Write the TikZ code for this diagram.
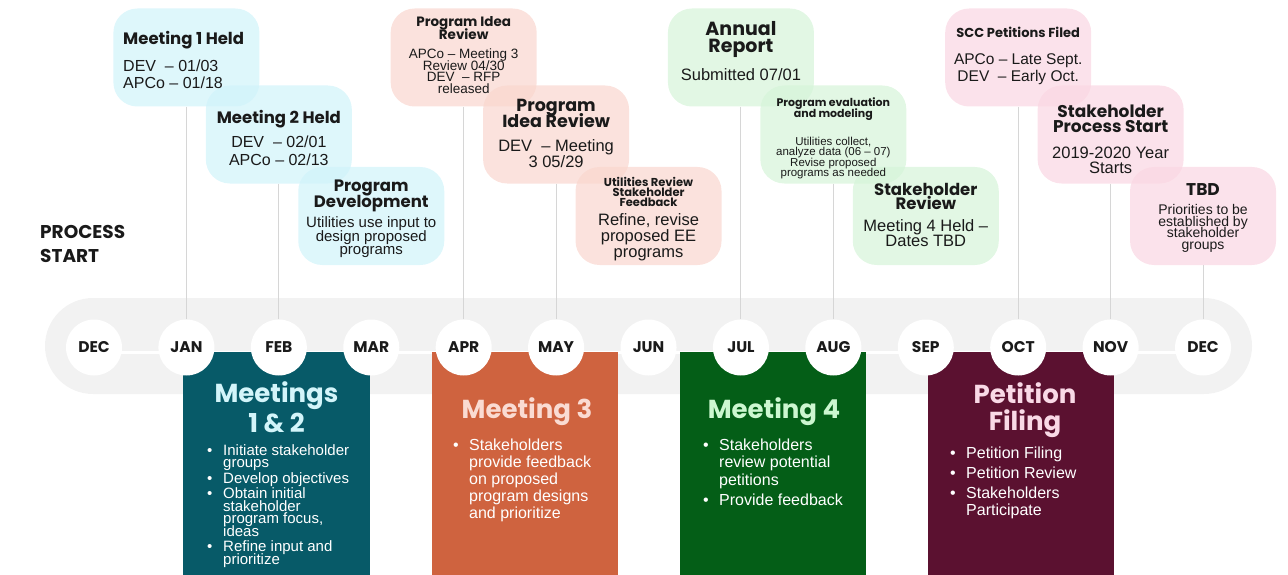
\documentclass[tikz,border=0pt]{standalone}
\usepackage{fontspec}
\setmainfont{Liberation Sans}
\newfontfamily\gothic{Poppins}
\usetikzlibrary{calc}

\definecolor{cyanbox}{HTML}{D0F3FA}
\definecolor{salmonbox}{HTML}{F9D6CE}
\definecolor{greenbox}{HTML}{D5F4D8}
\definecolor{pinkbox}{HTML}{FAD6E2}
\definecolor{bandgray}{HTML}{F2F2F2}
\definecolor{stemgray}{HTML}{D6D6D6}
\definecolor{tealfill}{HTML}{075A68}
\definecolor{orangefill}{HTML}{CF633F}
\definecolor{greenfill}{HTML}{045E17}
\definecolor{maroonfill}{HTML}{5B1130}
\definecolor{tealtitle}{HTML}{D3F5FA}
\definecolor{orangetitle}{HTML}{FADBD2}
\definecolor{greentitle}{HTML}{CCF7D0}
\definecolor{maroontitle}{HTML}{F9D9E6}
\definecolor{ink}{HTML}{1A1A1A}

% title / body blocks inside the callouts
\newcommand\ttl[3]{{\gothic\bfseries\fontsize{#1}{#2}\selectfont #3\par}}
\newcommand\bdy[3]{{\fontsize{#1}{#2}\selectfont #3\par}}
\newcommand\cpar[2]{\parbox[t]{#1}{\lineskiplimit=-50pt\lineskip=0pt\centering #2}}
\newcommand\lpar[2]{\parbox[t]{#1}{\lineskiplimit=-50pt\lineskip=0pt\raggedright #2}}
% bullet lists in the phase panels
\newlength\bw \setlength\bw{16pt}
\newcommand\bit[1]{\par\hangindent=\bw\hangafter=1\noindent\makebox[\bw][l]{\textbullet}#1}
\newcommand\blist[5]{\parbox[t]{#1}{\lineskiplimit=-50pt\lineskip=0pt\raggedright\fontsize{#2}{#3}\selectfont\parskip=#4pt #5}}

\tikzset{
  callout/.style={rounded corners=24pt, minimum width=146pt, minimum height=98pt,
    inner sep=0pt, fill opacity=0.7, draw=none},
  ctext/.style={anchor=base, inner sep=0pt, text=ink},
  month/.style={circle, fill=white, minimum size=56pt, inner sep=0pt, text=ink,
    font=\gothic\bfseries\fontsize{15.5}{16}\selectfont},
  stem/.style={draw=stemgray, line width=1pt},
  phase/.style={anchor=north west, inner sep=0pt, minimum height=223pt, draw=none},
  plist/.style={anchor=base west, inner sep=0pt, text=white},
}

\begin{document}
\begin{tikzpicture}[x=1pt,y=-1pt]
\useasboundingbox (0,0) rectangle (1288,575);

% month positions along the timeline
\foreach \i in {0,...,12} \coordinate (p\i) at ({94+92.42*\i},347.5);

% milestone callouts
\node[callout, fill=cyanbox]   (c1)  at (p1 |- 0,57.5) {};
\node[callout, fill=cyanbox]   (c2)  at (p2 |- 0,134.5) {};
\node[callout, fill=cyanbox]   (c3)  at (p3 |- 0,216) {};
\node[callout, fill=salmonbox] (c4)  at (p4 |- 0,57.5) {};
\node[callout, fill=salmonbox] (c5)  at (p5 |- 0,134.5) {};
\node[callout, fill=salmonbox] (c6)  at (p6 |- 0,216) {};
\node[callout, fill=greenbox]  (c7)  at (p7 |- 0,57.5) {};
\node[callout, fill=greenbox]  (c8)  at (p8 |- 0,134.5) {};
\node[callout, fill=greenbox]  (c9)  at (p9 |- 0,216) {};
\node[callout, fill=pinkbox]   (c10) at (p10 |- 0,57.5) {};
\node[callout, fill=pinkbox]   (c11) at (p11 |- 0,134.5) {};
\node[callout, fill=pinkbox]   (c12) at (p12 |- 0,216) {};

\node[ctext, anchor=base west] (t1) at (123,45) {\lpar{140pt}{%
  \ttl{16.5}{16}{Meeting 1 Held}\vspace{10.5pt}%
  \bdy{16}{16.5}{DEV\ \ – 01/03\\APCo – 01/18}}};
\node[ctext] (t2) at (p2 |- 0,124) {\cpar{144pt}{%
  \ttl{16.5}{16}{Meeting 2 Held}\vspace{6pt}%
  \bdy{16}{18}{DEV\ \ – 02/01\\APCo – 02/13}}};
\node[ctext] (t3) at (p3 |- 0,191.5) {\cpar{144pt}{%
  \ttl{16.5}{15.5}{Program\\Development}\vspace{7pt}%
  \bdy{15}{13.5}{Utilities use input to\\design proposed\\programs}}};
\node[ctext] (t4) at (p4 |- 0,27) {\cpar{144pt}{%
  \ttl{13.5}{13}{Program Idea\\Review}\vspace{7.5pt}%
  \bdy{13.5}{11.5}{APCo – Meeting 3\\Review 04/30\\DEV\ \ – RFP\\released}}};
\node[ctext] (t5) at (p5 |- 0,112) {\cpar{144pt}{%
  \ttl{17.5}{16}{Program\\Idea Review}\vspace{8.5pt}%
  \bdy{16.5}{15.5}{DEV\ \ – Meeting\\3 05/29}}};
\node[ctext] (t6) at (p6 |- 0,186) {\cpar{144pt}{%
  \ttl{11.5}{10}{Utilities Review\\Stakeholder\\Feedback}\vspace{3.5pt}%
  \bdy{16.5}{16}{Refine, revise\\proposed EE\\programs}}};
\node[ctext] (t7) at (p7 |- 0,36) {\cpar{144pt}{%
  \ttl{19}{16.5}{Annual\\Report}\vspace{11.5pt}%
  \bdy{16.5}{16.5}{Submitted 07/01}}};
\node[ctext] (t8) at (p8 |- 0,107) {\cpar{144pt}{%
  \ttl{11}{10.5}{Program evaluation\\and modeling}\vspace{18pt}%
  \bdy{11.5}{10.2}{Utilities collect,\\analyze data (06 – 07)\\Revise proposed\\programs as needed}}};
\node[ctext] (t9) at (p9 |- 0,195) {\cpar{144pt}{%
  \ttl{16.5}{14.5}{Stakeholder\\Review}\vspace{7pt}%
  \bdy{16.5}{15}{Meeting 4 Held –\\Dates TBD}}};
\node[ctext] (t10) at (p10 |- 0,38) {\cpar{144pt}{%
  \ttl{13}{13}{SCC Petitions Filed}\vspace{10pt}%
  \bdy{15.5}{17}{APCo – Late Sept.\\DEV\ \ – Early Oct.}}};
\node[ctext] (t11) at (p11 |- 0,118) {\cpar{144pt}{%
  \ttl{17}{15}{Stakeholder\\Process Start}\vspace{10pt}%
  \bdy{16.5}{15}{2019-2020 Year\\Starts}}};
\node[ctext] (t12) at (p12 |- 0,195) {\cpar{144pt}{%
  \ttl{17}{15}{TBD}\vspace{8.5pt}%
  \bdy{14}{11.5}{Priorities to be\\established by\\stakeholder\\groups}}};

% heading at the left
\node[ctext, anchor=base west] (ps) at (40,238) {\lpar{120pt}{%
  \gothic\bfseries\fontsize{18.5}{24}\selectfont PROCESS\\START}};

% timeline band
\fill[bandgray, rounded corners=48pt] (45,298) rectangle (1252,394);
\draw[white, line width=3pt] ($(p0)+(0,4.5)$) -- ($(p12)+(0,4.5)$);

% phase panels
\node[phase, fill=tealfill,   minimum width=187pt] (b1) at (183,352) {};
\node[phase, fill=orangefill, minimum width=186pt] (b2) at (432,352) {};
\node[phase, fill=greenfill,  minimum width=186pt] (b3) at (680,352) {};
\node[phase, fill=maroonfill, minimum width=186pt] (b4) at (928,352) {};

\node[ctext, text=tealtitle] (h1) at (276.5,402) {\cpar{180pt}{\ttl{26}{30}{Meetings\\1 \& 2}}};
\node[ctext, text=orangetitle] (h2) at (527,418) {\cpar{180pt}{\ttl{26}{30}{Meeting 3}}};
\node[ctext, text=greentitle] (h3) at (774,418) {\cpar{180pt}{\ttl{26}{30}{Meeting 4}}};
\node[ctext, text=maroontitle] (h4) at (1025,403) {\cpar{180pt}{\ttl{26}{27}{Petition\\Filing}}};

\node[plist] (l1) at (207,455) {\blist{165pt}{15}{12.5}{3}{%
  \bit{Initiate stakeholder\newline groups}%
  \bit{Develop objectives}%
  \bit{Obtain initial\newline stakeholder\newline program focus,\newline ideas}%
  \bit{Refine input and\newline prioritize}}};
\node[plist] (l2) at (453,450) {\blist{160pt}{16}{17}{0}{%
  \bit{Stakeholders\newline provide feedback\newline on proposed\newline program designs\newline and prioritize}}};
\node[plist] (l3) at (703,450) {\blist{160pt}{16}{17.5}{2.5}{%
  \bit{Stakeholders\newline review potential\newline petitions}%
  \bit{Provide feedback}}};
\node[plist] (l4) at (950,458) {\blist{160pt}{16}{17}{3}{%
  \bit{Petition Filing}%
  \bit{Petition Review}%
  \bit{Stakeholders\newline Participate}}};

% month markers
\foreach \i/\lab in {0/DEC,1/JAN,2/FEB,3/MAR,4/APR,5/MAY,6/JUN,7/JUL,8/AUG,9/SEP,10/OCT,11/NOV,12/DEC}
  \node[month] (m\i) at (p\i) {\lab};

% stems from callouts down to their months
\foreach \i in {1,2,4,5,7,8,10,11,12}
  \draw[stem] (c\i.south) -- (m\i.north);
\end{tikzpicture}
\end{document}
